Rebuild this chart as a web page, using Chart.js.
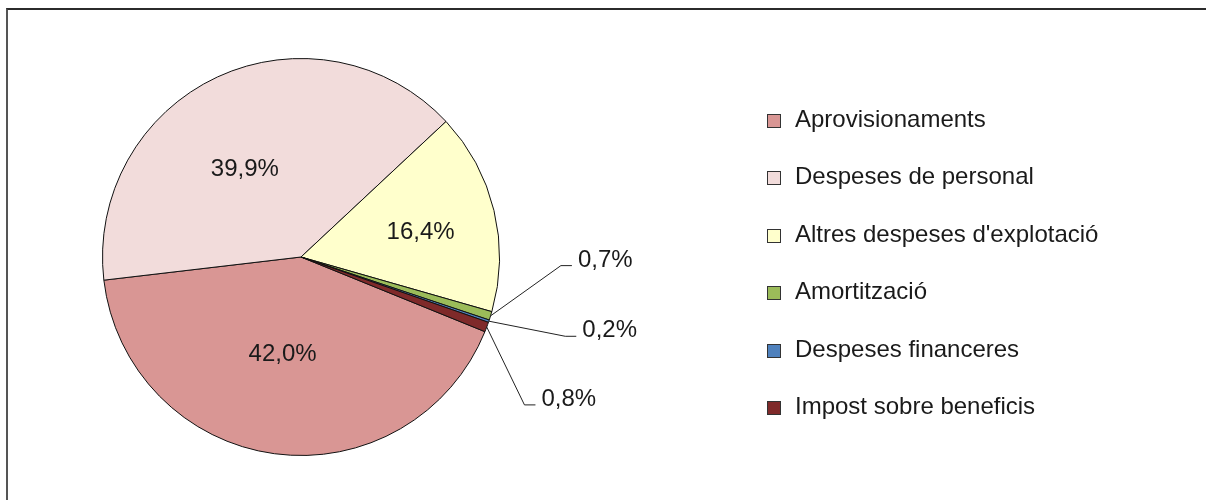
<!DOCTYPE html>
<html>
<head>
<meta charset="utf-8">
<script src="https://cdn.jsdelivr.net/npm/chart.js@4"></script>
<style>
  html, body { margin: 0; padding: 0; background: #fff; overflow: hidden; }
  #frame { position: absolute; left: 6px; top: 8px; width: 1300px; height: 600px;
           border-top: 2px solid #2b2b2b; border-left: 2px solid #555; }
  #wrap { position: absolute; left: 0; top: 0; width: 1206px; height: 500px; }
</style>
</head>
<body>
<div id="frame"></div>
<div id="wrap"><canvas id="myChart" width="1206" height="500"></canvas></div>
<script>
  // Dades del gràfic
  const categories = [
    "Aprovisionaments",
    "Despeses de personal",
    "Altres despeses d'explotació",
    "Amortització",
    "Despeses financeres",
    "Impost sobre beneficis",
  ];
  const shares = [42.0, 39.9, 16.4, 0.7, 0.2, 0.8];
  const sliceColors = ["#D99694", "#F2DCDB", "#FFFFCC", "#9BBB59", "#4F81BD", "#7F2A2A"];

  // Posició de les etiquetes: dins (fracció del radi + gir en graus)
  // o fora (colze de la línia guia: angle en graus i fracció del radi)
  const labelPlacement = [
    { inside: true, dist: 0.5, shift: 3 },
    { inside: true, dist: 0.525, shift: -7.7 },
    { inside: true, dist: 0.615, shift: 2 },
    { inside: false, angle: 1.9, dist: 1.31 },
    { inside: false, angle: 16.7, dist: 1.39 },
    { inside: false, angle: 33.5, dist: 1.35 },
  ];

  const FONT = "24px 'Liberation Sans', Arial, sans-serif";
  const TEXT_COLOR = "#1a1a1a";

  function formatShare(v) {
    return v.toFixed(1).replace(".", ",") + "%";
  }

  // Etiquetes de percentatge amb línies guia
  const sliceLabels = {
    id: "sliceLabels",
    afterDatasetsDraw(chart) {
      const ctx = chart.ctx;
      const arcs = chart.getDatasetMeta(0).data;
      ctx.save();
      ctx.font = FONT;
      ctx.fillStyle = TEXT_COLOR;
      ctx.strokeStyle = "#222";
      ctx.lineWidth = 1;
      arcs.forEach((arc, i) => {
        const p = labelPlacement[i];
        const { x, y, startAngle, endAngle, outerRadius } = arc.getProps(
          ["x", "y", "startAngle", "endAngle", "outerRadius"], true);
        const mid = (startAngle + endAngle) / 2;
        const text = formatShare(shares[i]);
        if (p.inside) {
          const a = mid + (p.shift * Math.PI) / 180;
          ctx.textAlign = "center";
          ctx.textBaseline = "middle";
          ctx.fillText(text, x + Math.cos(a) * outerRadius * p.dist,
                             y + Math.sin(a) * outerRadius * p.dist);
        } else {
          const a = (p.angle * Math.PI) / 180;
          const ex = x + Math.cos(a) * outerRadius * p.dist;
          const ey = y + Math.sin(a) * outerRadius * p.dist;
          ctx.beginPath();
          ctx.moveTo(x + Math.cos(mid) * outerRadius, y + Math.sin(mid) * outerRadius);
          ctx.lineTo(ex, ey);
          ctx.lineTo(ex + 11, ey);
          ctx.stroke();
          ctx.textAlign = "left";
          ctx.textBaseline = "alphabetic";
          ctx.fillText(text, ex + 17, ey + 1);
        }
      });
      ctx.restore();
    },
  };

  // Llegenda a la dreta
  const sideLegend = {
    id: "sideLegend",
    afterDraw(chart) {
      const ctx = chart.ctx;
      const colors = chart.data.datasets[0].backgroundColor;
      ctx.save();
      ctx.font = FONT;
      ctx.textAlign = "left";
      ctx.textBaseline = "alphabetic";
      ctx.lineWidth = 1;
      chart.data.labels.forEach((label, i) => {
        const base = Math.round(127 + i * 57.4);
        ctx.fillStyle = colors[i];
        ctx.fillRect(767.5, base - 12.5, 13, 13);
        ctx.strokeStyle = "#333";
        ctx.strokeRect(767.5, base - 12.5, 13, 13);
        ctx.fillStyle = TEXT_COLOR;
        ctx.fillText(label, 795, base);
      });
      ctx.restore();
    },
  };

  const config = {
    type: "pie",
    data: {
      labels: categories,
      datasets: [
        {
          data: shares,
          backgroundColor: sliceColors,
          borderColor: "#111",
          borderWidth: 1,
          hoverOffset: 0,
        },
      ],
    },
    options: {
      responsive: false,
      animation: false,
      rotation: 112.1,
      layout: { padding: { left: 102, right: 706, top: 58, bottom: 44 } },
      plugins: {
        legend: { display: false },
        tooltip: { enabled: false },
      },
    },
    plugins: [sliceLabels, sideLegend],
  };

  const chartElement = document.getElementById("myChart");
  if (chartElement) {
    new Chart(chartElement, config);
  }
</script>
</body>
</html>
